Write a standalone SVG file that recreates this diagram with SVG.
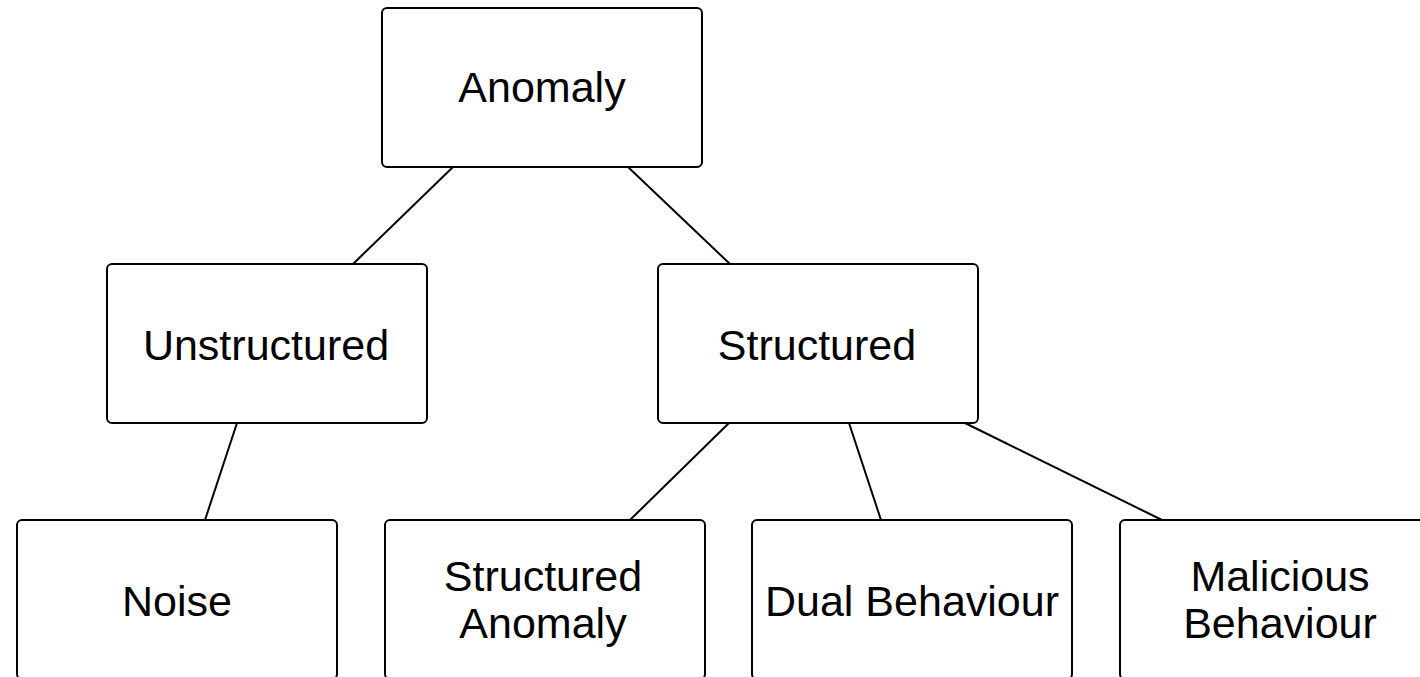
<svg xmlns="http://www.w3.org/2000/svg" width="1420" height="677" viewBox="0 0 1420 677">
  <style>
    .box { fill: #ffffff; stroke: #000000; stroke-width: 2; }
    .lbl { font-family: "Liberation Sans", Arial, Helvetica, sans-serif; font-size: 43px; fill: #000000; text-anchor: middle; }
    .edge { stroke: #000000; stroke-width: 2; fill: none; }
  </style>
  <rect x="0" y="0" width="1420" height="677" fill="#ffffff"/>

  <g id="connectors">
    <line class="edge" x1="453" y1="167" x2="353" y2="264"/>
    <line class="edge" x1="628" y1="167" x2="730" y2="264"/>
    <line class="edge" x1="237" y1="423" x2="205" y2="520"/>
    <line class="edge" x1="729" y1="423" x2="630" y2="520"/>
    <line class="edge" x1="849" y1="423" x2="881" y2="520"/>
    <line class="edge" x1="965" y1="423" x2="1162" y2="520"/>
  </g>

  <g id="anomaly">
    <rect class="box" x="382" y="8" width="320" height="159" rx="5"/>
    <text class="lbl" x="542" y="102">Anomaly</text>
  </g>

  <g id="unstructured">
    <rect class="box" x="107" y="264" width="320" height="159" rx="5"/>
    <text class="lbl" x="266" y="360">Unstructured</text>
  </g>

  <g id="structured">
    <rect class="box" x="658" y="264" width="320" height="159" rx="5"/>
    <text class="lbl" x="817" y="360">Structured</text>
  </g>

  <g id="noise">
    <rect class="box" x="17" y="520" width="320" height="159" rx="5"/>
    <text class="lbl" x="177" y="616">Noise</text>
  </g>

  <g id="structured-anomaly">
    <rect class="box" x="385" y="520" width="320" height="159" rx="5"/>
    <text class="lbl" x="543" y="591">Structured</text>
    <text class="lbl" x="543" y="638">Anomaly</text>
  </g>

  <g id="dual-behaviour">
    <rect class="box" x="752" y="520" width="320" height="159" rx="5"/>
    <text class="lbl" x="912" y="616">Dual Behaviour</text>
  </g>

  <g id="malicious-behaviour">
    <rect class="box" x="1120" y="520" width="320" height="159" rx="5"/>
    <text class="lbl" x="1280" y="591">Malicious</text>
    <text class="lbl" x="1280" y="638">Behaviour</text>
  </g>
</svg>
